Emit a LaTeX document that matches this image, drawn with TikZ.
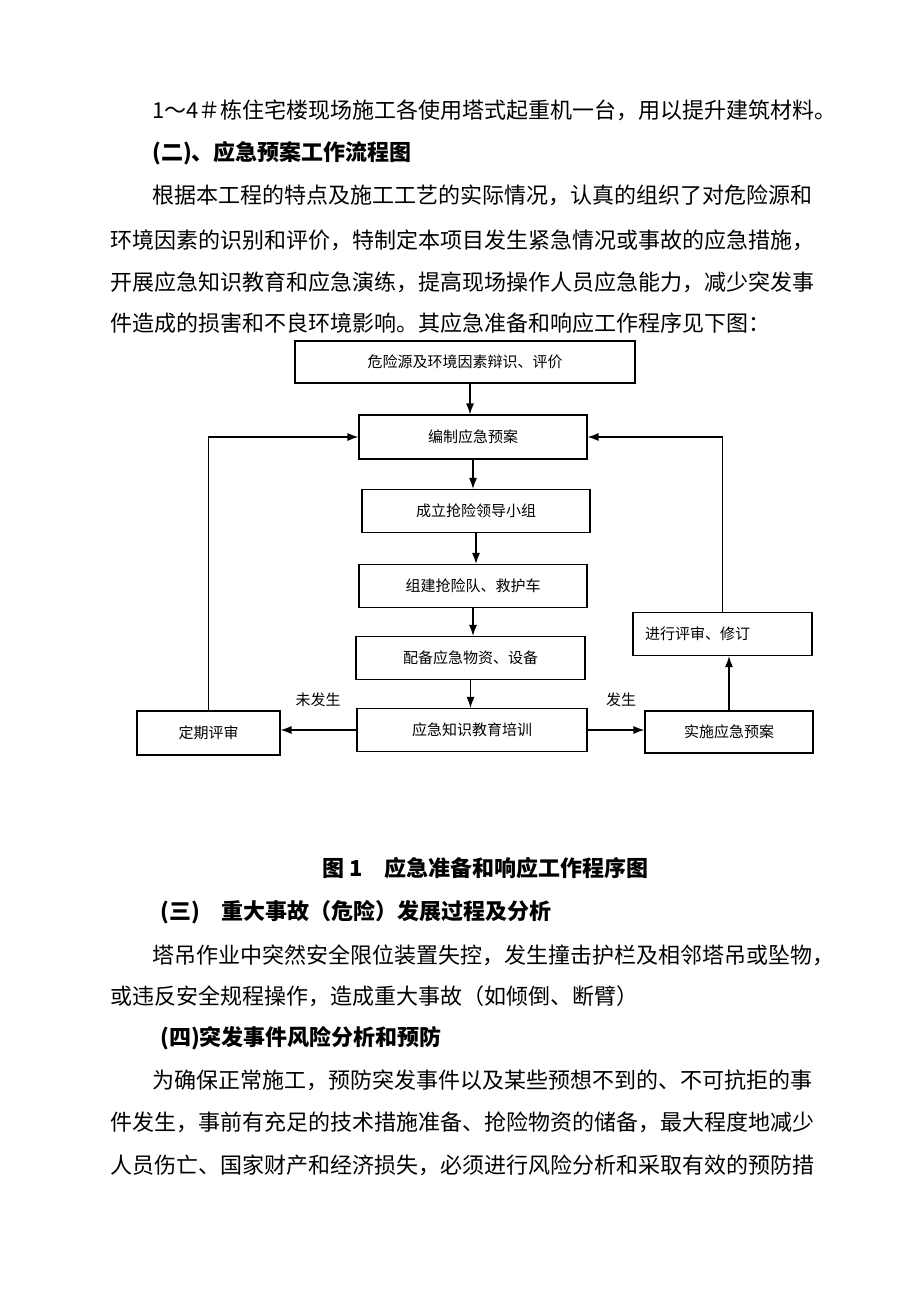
\documentclass[tikz,border=0pt]{standalone}
\usepackage{fontspec}
\setmainfont{Noto Sans CJK SC}
\usetikzlibrary{arrows.meta}

\begin{document}
\begin{tikzpicture}[x=1pt,y=-1pt,
  box/.style={draw,line width=1.1pt,inner sep=0pt,font=\fontsize{15}{18}\selectfont},
  para/.style={anchor=west,inner sep=0pt,font=\fontsize{22}{26}\selectfont},
  head/.style={anchor=west,inner sep=0pt,font=\fontsize{22}{26}\selectfont\bfseries},
  lbl/.style={inner sep=0pt,font=\fontsize{15}{18}\selectfont},
  arr/.style={-{Latex[length=11pt,width=8pt]},line width=1.3pt}]
\useasboundingbox[fill=white] (0,0) rectangle (920,1302);

\node[para] (p1) at (152,110) {1～4＃栋住宅楼现场施工各使用塔式起重机一台，用以提升建筑材料。};
\node[head] (h2) at (152,153) {(二)、应急预案工作流程图};
\node[para] (p2) at (152,195) {根据本工程的特点及施工工艺的实际情况，认真的组织了对危险源和};
\node[para] (p3) at (110,240) {环境因素的识别和评价，特制定本项目发生紧急情况或事故的应急措施，};
\node[para] (p4) at (110,282) {开展应急知识教育和应急演练，提高现场操作人员应急能力，减少突发事};
\node[para] (p5) at (110,323) {件造成的损害和不良环境影响。其应急准备和响应工作程序见下图：};

\node[box,minimum width=340pt,minimum height=42pt] (A) at (465,362) {危险源及环境因素辩识、评价};
\node[box,minimum width=228pt,minimum height=44pt] (B) at (473,437) {编制应急预案};
\node[box,minimum width=228pt,minimum height=43pt] (C) at (476,511) {成立抢险领导小组};
\node[box,minimum width=228pt,minimum height=43pt] (D) at (473,586) {组建抢险队、救护车};
\node[box,minimum width=229pt,minimum height=43pt] (E) at (470.5,658) {配备应急物资、设备};
\node[box,minimum width=230pt,minimum height=43pt] (F) at (472,730) {应急知识教育培训};
\node[box,minimum width=143pt,minimum height=44pt] (G) at (208.5,733) {定期评审};
\node[box,minimum width=168pt,minimum height=42pt] (H) at (729,732) {实施应急预案};
\node[box,text width=155pt,inner xsep=12pt,align=left,minimum height=43pt] (I) at (722.5,634) {进行评审、修订};
\node[lbl] (no) at (318,700) {未发生};
\node[lbl] (yes) at (621,700) {发生};

\draw[arr] ([xshift=-3pt]A.south -| B) -- ([xshift=-3pt]B.north);
\draw[arr] (B.south) -- (B.south |- C.north);
\draw[arr] (C.south) -- (C.south |- D.north);
\draw[arr] (D.south) -- (D.south |- E.north);
\draw[arr] (E.south) -- (E.south |- F.north);
\draw[arr] (F.west) -- (F.west -| G.east);
\draw[arr] (F.east) -- (F.east -| H.west);
\draw[arr] (H.north) -- (H.north |- I.south);
\draw[arr] (I.north) |- (B.east);
\draw[arr] (G.north) |- (B.west);

\node[head] (cap) at (322,868) {图 1\quad 应急准备和响应工作程序图};
\node[head] (h3) at (160,912) {(三)\quad 重大事故（危险）发展过程及分析};
\node[para] (p6) at (152,955) {塔吊作业中突然安全限位装置失控，发生撞击护栏及相邻塔吊或坠物，};
\node[para] (p7) at (110,996) {或违反安全规程操作，造成重大事故（如倾倒、断臂）};
\node[head] (h4) at (160,1038) {(四)突发事件风险分析和预防};
\node[para] (p8) at (152,1080) {为确保正常施工，预防突发事件以及某些预想不到的、不可抗拒的事};
\node[para] (p9) at (110,1122) {件发生，事前有充足的技术措施准备、抢险物资的储备，最大程度地减少};
\node[para] (p10) at (110,1165) {人员伤亡、国家财产和经济损失，必须进行风险分析和采取有效的预防措};
\end{tikzpicture}
\end{document}
